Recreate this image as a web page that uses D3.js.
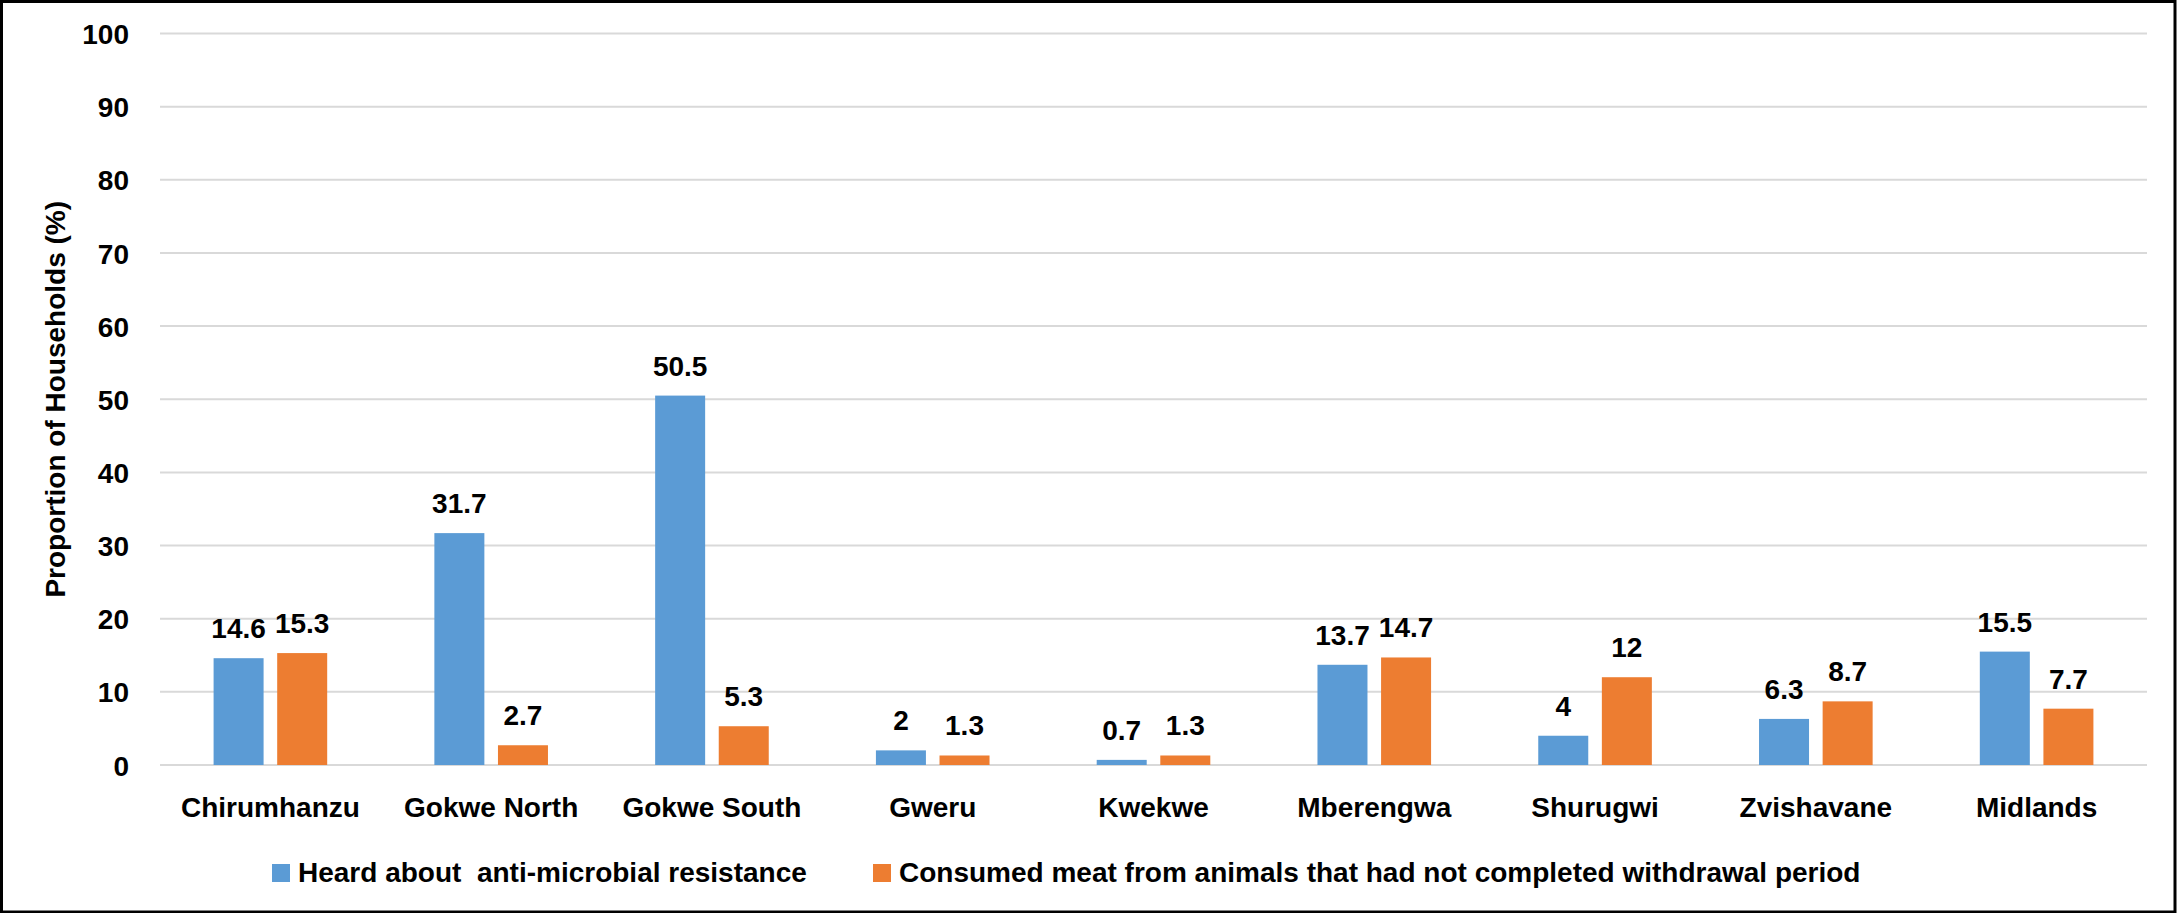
<!DOCTYPE html>
<html>
<head>
<meta charset="utf-8">
<script src="https://cdn.jsdelivr.net/npm/d3@7"></script>
<style>
  html, body { margin: 0; padding: 0; background: #ffffff; }
  svg { display: block; }
  text { font-family: "Liberation Sans", Arial, sans-serif; font-weight: 700; fill: #000000; }
</style>
</head>
<body>
<svg id="chart"></svg>
<script>
// District names along the x axis
const categories = ["Chirumhanzu", "Gokwe North", "Gokwe South", "Gweru", "Kwekwe",
                    "Mberengwa", "Shurugwi", "Zvishavane", "Midlands"];
// Share of households (%) per district
const heardAMR = [14.6, 31.7, 50.5, 2, 0.7, 13.7, 4, 6.3, 15.5];
const consumedMeat = [15.3, 2.7, 5.3, 1.3, 1.3, 14.7, 12, 8.7, 7.7];
const seriesNames = ["Heard about  anti-microbial resistance",
                     "Consumed meat from animals that had not completed withdrawal period"];
const seriesColors = ["#5B9BD5", "#ED7D31"];
const yTicks = [0, 10, 20, 30, 40, 50, 60, 70, 80, 90, 100];

const W = 2177, H = 913;
const plot = { left: 160, right: 2147, top: 33.5, bottom: 765 };
const fontSize = 28;
const fontFamily = "Liberation Sans, Arial, sans-serif";

const svg = d3.select("#chart").attr("width", W).attr("height", H);

svg.append("rect").attr("x", 0).attr("y", 0).attr("width", W).attr("height", H).attr("fill", "#fff");

const x = d3.scaleBand().domain(categories).range([plot.left, plot.right]).paddingInner(0).paddingOuter(0);
const inner = d3.scaleBand().domain([0, 1]).range([-56.8, 56.8]).paddingInner(0.2138).paddingOuter(0);
const y = d3.scaleLinear().domain([0, 100]).range([plot.bottom, plot.top]);

// Horizontal gridlines (including the baseline)
svg.append("g")
  .selectAll("line")
  .data(yTicks)
  .join("line")
  .attr("x1", plot.left).attr("x2", plot.right)
  .attr("y1", d => y(d)).attr("y2", d => y(d))
  .attr("stroke", "#D9D9D9").attr("stroke-width", 2);

// Y axis tick labels
const yAxis = d3.axisLeft(y).tickValues(yTicks).tickSize(0).tickPadding(0);
const gy = svg.append("g").attr("transform", "translate(129,0)").call(yAxis);
gy.select(".domain").remove();
gy.selectAll("text")
  .attr("font-size", fontSize)
  .attr("font-family", fontFamily)
  .attr("font-weight", 700)
  .attr("fill", "#000")
  .attr("dy", "0.36em");

// Category labels
const xAxis = d3.axisBottom(x).tickSize(0).tickPadding(0);
const gx = svg.append("g").attr("transform", "translate(0,817)").call(xAxis);
gx.select(".domain").remove();
gx.selectAll("text")
  .attr("font-size", fontSize)
  .attr("font-family", fontFamily)
  .attr("font-weight", 700)
  .attr("fill", "#000")
  .attr("dy", 0);

// Bars and value labels
const rows = categories.map((c, i) => ({ cat: c, vals: [heardAMR[i], consumedMeat[i]] }));
const groups = svg.append("g").selectAll("g")
  .data(rows)
  .join("g")
  .attr("transform", d => `translate(${x(d.cat) + x.bandwidth() / 2},0)`);

groups.selectAll("rect")
  .data(d => d.vals.map((v, s) => ({ v, s })))
  .join("rect")
  .attr("x", d => inner(d.s))
  .attr("width", inner.bandwidth())
  .attr("y", d => y(d.v))
  .attr("height", d => y(0) - y(d.v))
  .attr("fill", d => seriesColors[d.s]);

groups.selectAll("text.val")
  .data(d => d.vals.map((v, s) => ({ v, s })))
  .join("text")
  .attr("class", "val")
  .attr("x", d => inner(d.s) + inner.bandwidth() / 2)
  .attr("y", d => y(d.v) - 20)
  .attr("text-anchor", "middle")
  .attr("font-size", fontSize)
  .text(d => d.v);

// Y axis title
svg.append("text")
  .attr("transform", `translate(65,${(plot.top + plot.bottom) / 2}) rotate(-90)`)
  .attr("text-anchor", "middle")
  .attr("font-size", fontSize)
  .text("Proportion of Households (%)");

// Legend
const legendItems = [
  { name: seriesNames[0], color: seriesColors[0], mx: 272, tx: 298 },
  { name: seriesNames[1], color: seriesColors[1], mx: 873, tx: 899 }
];
const lg = svg.append("g");
lg.selectAll("rect")
  .data(legendItems)
  .join("rect")
  .attr("x", d => d.mx).attr("y", 864)
  .attr("width", 18).attr("height", 18)
  .attr("fill", d => d.color);
lg.selectAll("text")
  .data(legendItems)
  .join("text")
  .attr("x", d => d.tx).attr("y", 882)
  .attr("font-size", fontSize)
  .attr("xml:space", "preserve")
  .style("white-space", "pre")
  .text(d => d.name);

// Chart border
svg.append("rect")
  .attr("x", 1.5).attr("y", 1.5)
  .attr("width", W - 3.5).attr("height", H - 2.5)
  .attr("fill", "none").attr("stroke", "#000").attr("stroke-width", 3);
</script>
</body>
</html>
